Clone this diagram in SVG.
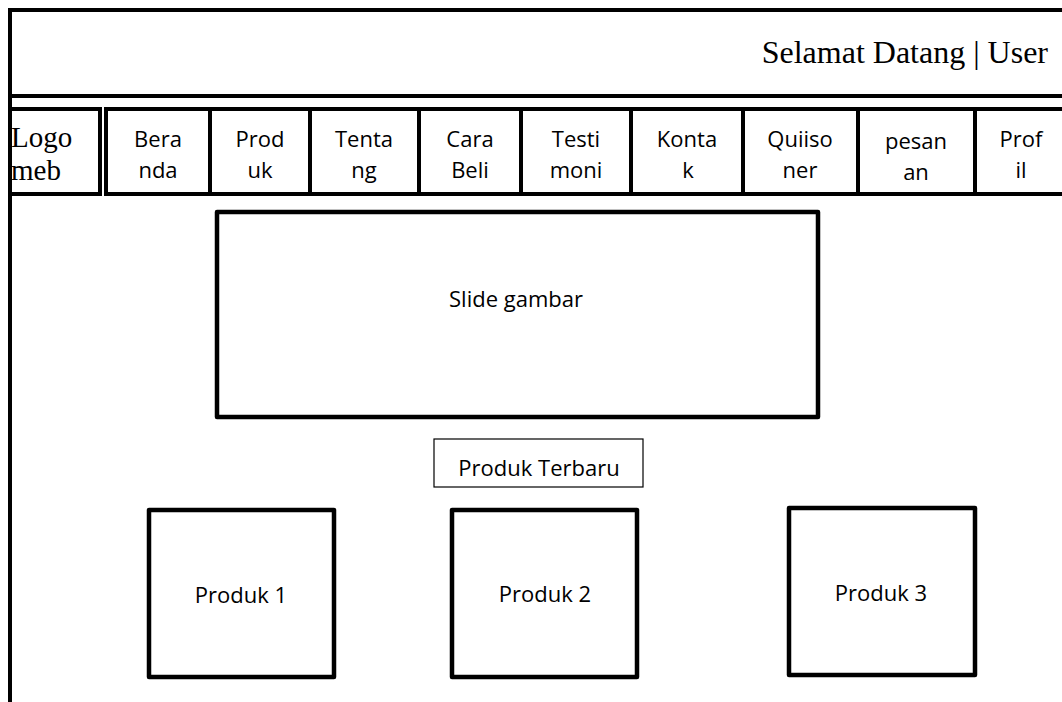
<svg xmlns="http://www.w3.org/2000/svg" width="1062" height="702" viewBox="0 0 1062 702">
  <style>
    .frame { fill: none; stroke: #000; stroke-width: 4; }
    .cell { fill: #fff; stroke: #000; stroke-width: 4; }
    .box { fill: #fff; stroke: #000; stroke-width: 4.5; stroke-linejoin: round; }
    .thin { fill: #fff; stroke: #000; stroke-width: 1.2; }
    .sans { font-family: "Open Sans", "Noto Sans", sans-serif; font-size: 22px; fill: #000; text-anchor: middle; }
    .serif { font-family: "Liberation Serif", "Times New Roman", serif; fill: #000; }
  </style>
  <rect width="1062" height="702" fill="#fff"/>

  <!-- page frame: top edge, header divider and left edge -->
  <g id="frame">
    <line class="frame" x1="10" y1="10" x2="1062" y2="10"/>
    <line class="frame" x1="10" y1="96" x2="1062" y2="96"/>
    <line class="frame" x1="10" y1="8" x2="10" y2="702"/>
  </g>

  <!-- header greeting -->
  <g id="header">
    <text class="serif" x="1048" y="63" font-size="32" text-anchor="end">Selamat Datang | User</text>
  </g>

  <!-- navigation bar -->
  <g id="nav-logo">
    <rect class="cell" x="10" y="109" width="90" height="85" stroke-width="2.5"/>
    <text class="serif" font-size="29"><tspan x="11" y="147">Logo</tspan><tspan x="11" y="180">meb</tspan></text>
  </g>
  <g id="nav-beranda">
    <rect class="cell" x="106" y="109" width="104" height="85"/>
    <text class="sans"><tspan x="158" y="147">Bera</tspan><tspan x="158" y="178">nda</tspan></text>
  </g>
  <g id="nav-produk">
    <rect class="cell" x="210" y="109" width="100" height="85"/>
    <text class="sans"><tspan x="260" y="147">Prod</tspan><tspan x="260" y="178">uk</tspan></text>
  </g>
  <g id="nav-tentang">
    <rect class="cell" x="310" y="109" width="109" height="85"/>
    <text class="sans"><tspan x="364" y="147">Tenta</tspan><tspan x="364" y="178">ng</tspan></text>
  </g>
  <g id="nav-carabeli">
    <rect class="cell" x="419" y="109" width="102" height="85"/>
    <text class="sans"><tspan x="470" y="147">Cara</tspan><tspan x="470" y="178">Beli</tspan></text>
  </g>
  <g id="nav-testimoni">
    <rect class="cell" x="521" y="109" width="110" height="85"/>
    <text class="sans"><tspan x="576" y="147">Testi</tspan><tspan x="576" y="178">moni</tspan></text>
  </g>
  <g id="nav-kontak">
    <rect class="cell" x="631" y="109" width="112" height="85"/>
    <text class="sans"><tspan x="687" y="147">Konta</tspan><tspan x="688" y="178">k</tspan></text>
  </g>
  <g id="nav-quiisoner">
    <rect class="cell" x="743" y="109" width="115" height="85"/>
    <text class="sans"><tspan x="800" y="147">Quiiso</tspan><tspan x="800" y="178">ner</tspan></text>
  </g>
  <g id="nav-pesanan">
    <rect class="cell" x="858" y="109" width="117" height="85"/>
    <text class="sans"><tspan x="916" y="149">pesan</tspan><tspan x="916" y="180">an</tspan></text>
  </g>
  <g id="nav-profil">
    <rect class="cell" x="975" y="109" width="100" height="85"/>
    <text class="sans"><tspan x="1021" y="147">Prof</tspan><tspan x="1021" y="178">il</tspan></text>
  </g>

  <!-- image slider -->
  <g id="slider">
    <rect class="box" x="217" y="212" width="601" height="205"/>
    <text class="sans" x="516" y="307">Slide gambar</text>
  </g>

  <!-- section title -->
  <g id="latest-title">
    <rect class="thin" x="434" y="439" width="209" height="48"/>
    <text class="sans" x="539" y="476">Produk Terbaru</text>
  </g>

  <!-- product cards -->
  <g id="product-1">
    <rect class="box" x="149" y="510" width="185" height="167"/>
    <text class="sans" x="241" y="603">Produk 1</text>
  </g>
  <g id="product-2">
    <rect class="box" x="452" y="510" width="185" height="167"/>
    <text class="sans" x="545" y="602">Produk 2</text>
  </g>
  <g id="product-3">
    <rect class="box" x="789" y="508" width="186" height="167"/>
    <text class="sans" x="881" y="601">Produk 3</text>
  </g>
</svg>
